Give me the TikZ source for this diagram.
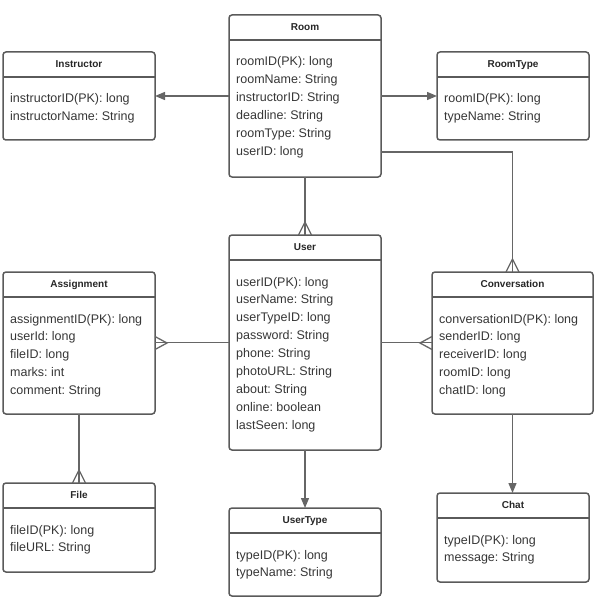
\documentclass[tikz,border=0pt]{standalone}
\usepackage{fontspec}
\setmainfont{Liberation Sans}
\usetikzlibrary{arrows.meta,calc}
\definecolor{bd}{HTML}{5A5A5A}
\definecolor{ln}{HTML}{666666}
\definecolor{tx}{HTML}{363636}
% #8 = number of attribute lines minus one (the base of a multi-line node is its last line)
\newcommand\entity[8]{%
  \node[ent, minimum width=#4pt, minimum height=#5pt] (#1) at (#2,-#3) {};
  \draw[hdr] ([yshift=-25pt]#1.north west) -- ([yshift=-25pt]#1.north east);
  \node[ttl] (#1-t) at ([yshift=-15.5pt]#1.north) {#6};
  \node[att] (#1-a) at ([xshift=7pt,yshift={-51pt-#8*17.9pt}]#1.north west) {#7};
}
\frenchspacing
\begin{document}
\begin{tikzpicture}[x=1pt,y=1pt,
  ent/.style={draw=bd, line width=1.5pt, rounded corners=3pt, rectangle, inner sep=0pt, outer sep=0pt, anchor=north west},
  hdr/.style={draw=bd, line width=1.5pt},
  ttl/.style={font=\fontsize{10}{12}\selectfont\bfseries, text=black!85, anchor=base, inner sep=0pt},
  att/.style={font=\fontsize{12.5}{17.9}\selectfont\frenchspacing, text=tx, align=left, anchor=base west, inner sep=0pt},
  con/.style={draw=ln, line width=1.3pt},
  arr/.style={con, -{Triangle[length=10pt,width=8pt]}},
]
\useasboundingbox (0,0) rectangle (594,-604);

\entity{room}{229}{15}{152}{162}{Room}{roomID(PK): long\\roomName: String\\instructorID: String\\deadline: String\\roomType: String\\userID: long}{5}
\entity{instr}{3}{52}{152}{88}{Instructor}{instructorID(PK): long\\instructorName: String}{1}
\entity{rtype}{437}{52}{152}{88}{RoomType}{roomID(PK): long\\typeName: String}{1}
\entity{user}{229}{235}{152}{215}{User}{userID(PK): long\\userName: String\\userTypeID: long\\password: String\\phone: String\\photoURL: String\\about: String\\online: boolean\\lastSeen: long}{8}
\entity{assign}{3}{272}{152}{142}{Assignment}{assignmentID(PK): long\\userId: long\\fileID: long\\marks: int\\comment: String}{4}
\entity{conv}{432}{272}{161}{142}{Conversation}{conversationID(PK): long\\senderID: long\\receiverID: long\\roomID: long\\chatID: long}{4}
\entity{file}{3}{483}{152}{89}{File}{fileID(PK): long\\fileURL: String}{1}
\entity{utype}{229}{508}{152}{88}{UserType}{typeID(PK): long\\typeName: String}{1}
\entity{chat}{437}{493}{152}{89}{Chat}{typeID(PK): long\\message: String}{1}

% arrows
\draw[arr] (room.west) -- (room.west -| instr.east);
\draw[arr] (room.east) -- (room.east -| rtype.west);
\draw[arr] (user.south) -- (user.south |- utype.north);
\draw[arr] (conv.south) -- (conv.south |- chat.north);

% crow's foot connectors
\draw[con] (room.south) -- (room.south |- user.north);
\draw[con] ([xshift=-6.5pt]user.north) -- ([yshift=13pt]user.north) -- ([xshift=6.5pt]user.north);

\draw[con] ([yshift=-56pt]room.east) -| (conv.north);
\draw[con] ([xshift=-6.5pt]conv.north) -- ([yshift=13pt]conv.north) -- ([xshift=6.5pt]conv.north);

\draw[con] (user.west) -- (user.west -| assign.east);
\draw[con] ([yshift=6.5pt]assign.east) -- ([xshift=12pt]assign.east) -- ([yshift=-6.5pt]assign.east);

\draw[con] (user.east) -- (user.east -| conv.west);
\draw[con] ([yshift=6.5pt]conv.west) -- ([xshift=-12pt]conv.west) -- ([yshift=-6.5pt]conv.west);

\draw[con] (assign.south) -- (assign.south |- file.north);
\draw[con] ([xshift=-6.5pt]file.north) -- ([yshift=13pt]file.north) -- ([xshift=6.5pt]file.north);
\end{tikzpicture}
\end{document}
